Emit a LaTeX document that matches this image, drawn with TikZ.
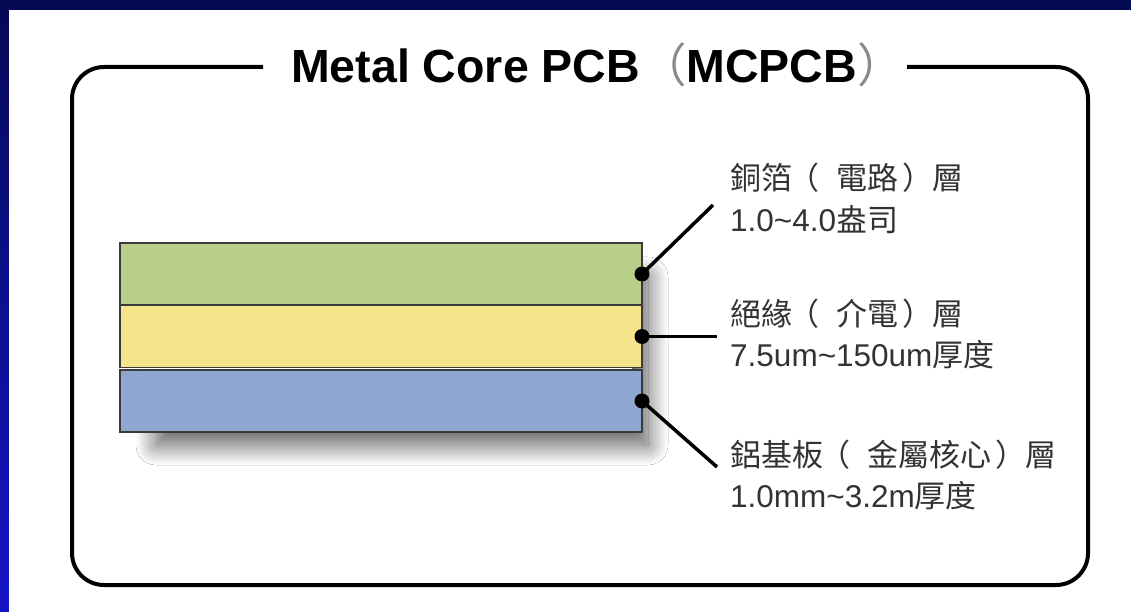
\documentclass[tikz,border=0pt]{standalone}
\usepackage{fontspec}
\setmainfont{Liberation Sans}
\newfontfamily\cjk{Noto Sans CJK TC}
\usetikzlibrary{shadows.blur}
\definecolor{navytop}{HTML}{050A55}
\definecolor{navybot}{HTML}{1515C8}
\definecolor{layergreen}{HTML}{B8CF8A}
\definecolor{layeryellow}{HTML}{F5E58A}
\definecolor{layerblue}{HTML}{8EA6D0}
\definecolor{edgegray}{HTML}{3A3A3A}
\definecolor{textgray}{HTML}{333333}
\definecolor{parengray}{HTML}{8A8A8A}
\newcommand\lp{\hspace{-4pt}（\hspace{17pt}}
\newcommand\rp{\hspace{4pt}）\hspace{-1pt}}
\tikzset{
  layer/.style={draw=edgegray, line width=1.6pt, minimum width=522pt, minimum height=62pt, inner sep=0pt, outer sep=0pt},
  dotmark/.style={circle, fill=black, inner sep=0pt, minimum size=15pt},
  leader/.style={line width=3.5pt, black},
  lab/.style={anchor=base west, inner sep=0pt, text=textgray, font=\fontsize{31}{36}\selectfont},
  latin/.style={font=\fontsize{31.5}{36}\selectfont},
  frame/.style={line width=4pt, black, rounded corners=32pt}
}
\begin{document}
\begin{tikzpicture}[x=1pt,y=1pt]
\useasboundingbox (0,0) rectangle (1131,611);
% background
\shade[top color=navytop, bottom color=navybot] (0,0) rectangle (1131,611);
\fill[navytop] (0,601) rectangle (1131,611);
\fill[white] (9,-2) rectangle (1133,601);
% frame
\draw[frame] (263,544) -- (72,544) -- (72,26) -- (1088,26) -- (1088,544) -- (907,544);
\node[anchor=base west, inner sep=0pt, font=\fontsize{46.5}{54}\selectfont] (title) at (291,528)
  {\bfseries Metal Core PCB{\mdseries\cjk\color{parengray}（}MCPCB{\mdseries\cjk\color{parengray}）}};
% shadow of the stack (hidden source rectangle under the layers)
\path[fill=white, blur shadow={shadow xshift=16pt, shadow yshift=-24pt, shadow blur radius=20pt, shadow blur steps=24, shadow opacity=65}] (140,190) rectangle (632,358);
% layers
\node[layer, fill=layergreen] (l1) at (381,337) {};
\node[layer, fill=layeryellow] (l2) at (381,274.5) {};
\node[layer, fill=layerblue] (l3) at (381,210) {};
% dots
\node[dotmark] (d1) at (l1.east) {};
\node[dotmark] (d2) at (l2.east) {};
\node[dotmark] (d3) at (l3.east) {};
% leader ends
\coordinate (e1) at (713,406);
\coordinate (e2) at (717,274.5);
\coordinate (e3) at (717,144);
\draw[leader] (d1.center) -- (e1);
\draw[leader] (d2.center) -- (e2);
\draw[leader] (d3.center) -- (e3);
% labels
\node[lab] (t1a) at (730,421) {\cjk 銅箔\lp 電路\rp 層};
\node[lab, latin] (t1b) at (730,379) {1.0\textasciitilde4.0{\cjk\fontsize{31}{36}\selectfont 盎司}};
\node[lab] (t2a) at (730,286) {\cjk 絕緣\lp 介電\rp 層};
\node[lab, latin] (t2b) at (730,245) {7.5um\textasciitilde150um{\cjk\fontsize{31}{36}\selectfont 厚度}};
\node[lab] (t3a) at (730,145) {\cjk 鋁基板\lp 金屬核心\rp 層};
\node[lab, latin] (t3b) at (730,104) {1.0mm\textasciitilde3.2m{\cjk\fontsize{31}{36}\selectfont 厚度}};
\end{tikzpicture}
\end{document}
